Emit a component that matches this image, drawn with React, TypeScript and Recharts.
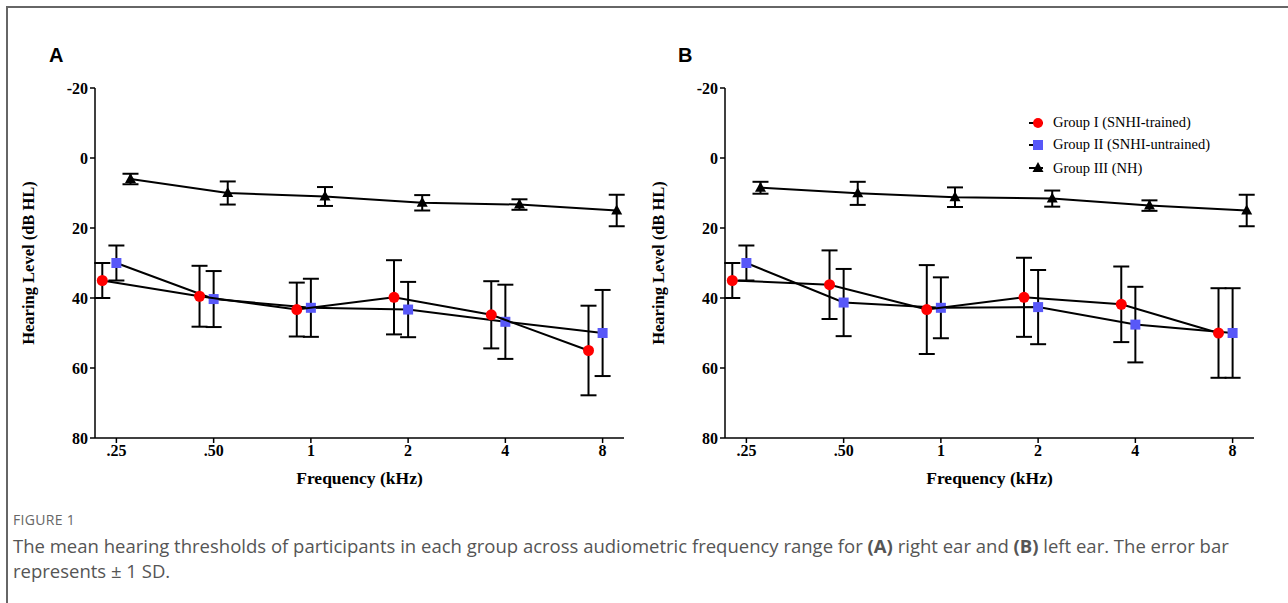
import { ScatterChart, Scatter, XAxis, YAxis, ErrorBar, Legend } from 'recharts';

const freqLabels = ['.25', '.50', '1', '2', '4', '8'];
const freqIndex = [0, 1, 2, 3, 4, 5];
const yTicks = [-20, 0, 20, 40, 60, 80];

// right ear (A)
const rightG1Mean = [35, 39.5, 43.3, 39.8, 44.8, 55];
const rightG1Sd = [5, 8.7, 7.7, 10.6, 9.6, 12.8];
const rightG2Mean = [30, 40.3, 42.8, 43.3, 46.8, 50];
const rightG2Sd = [5, 8, 8.3, 7.9, 10.6, 12.3];
const rightG3Mean = [6, 10, 11, 12.8, 13.3, 15];
const rightG3Sd = [1.5, 3.3, 2.7, 2.2, 1.5, 4.5];

// left ear (B)
const leftG1Mean = [35, 36.2, 43.3, 39.8, 41.8, 50];
const leftG1Sd = [5, 9.8, 12.7, 11.3, 10.8, 12.8];
const leftG2Mean = [30, 41.3, 42.8, 42.6, 47.6, 50];
const leftG2Sd = [5, 9.6, 8.7, 10.6, 10.8, 12.8];
const leftG3Mean = [8.5, 10.1, 11.2, 11.6, 13.6, 15];
const leftG3Sd = [1.7, 3.3, 2.8, 2.3, 1.5, 4.5];

const groupNames = ['Group I (SNHI-trained)', 'Group II (SNHI-untrained)', 'Group III (NH)'];

const RED = '#ff0000';
const BLUE = '#5858f8';
const SERIF = '"Liberation Serif", "Times New Roman", serif';

// small horizontal shift so the three groups do not overlap at each frequency
const OFFSET = 0.145;

const toPoints = (means: number[], sds: number[], shift: number) =>
  means.map((m, i) => ({ x: freqIndex[i] + shift, y: m, sd: sds[i] }));

const Circle = (props: any) => <circle cx={props.cx} cy={props.cy} r={5.5} fill={RED} />;
const Square = (props: any) => (
  <rect x={props.cx - 5} y={props.cy - 5} width={10} height={10} fill={BLUE} />
);
const Triangle = (props: any) => (
  <polygon
    points={`${props.cx},${props.cy - 6} ${props.cx + 5.5},${props.cy + 4} ${props.cx - 5.5},${props.cy + 4}`}
    fill="#000"
  />
);

function LegendBox() {
  const markers = [
    <circle cx={10} cy={6} r={5} fill={RED} />,
    <rect x={5} y={1} width={10} height={10} fill={BLUE} />,
    <polygon points="10,0 15.5,10 4.5,10" fill="#000" />,
  ];
  const heights = [21, 23, 24];
  return (
    <div style={{ fontFamily: SERIF, fontSize: 14.5, color: '#000' }}>
      {groupNames.map((name, i) => (
        <div key={name} style={{ display: 'flex', alignItems: 'center', height: heights[i] }}>
          <svg width={20} height={12} style={{ overflow: 'visible' }}>
            <line x1={1} y1={6} x2={15} y2={6} stroke="#000" strokeWidth={2} />
            {markers[i]}
          </svg>
          <span style={{ marginLeft: 5 }}>{name}</span>
        </div>
      ))}
    </div>
  );
}

interface PanelProps {
  g1: { x: number; y: number; sd: number }[];
  g2: { x: number; y: number; sd: number }[];
  g3: { x: number; y: number; sd: number }[];
  showLegend?: boolean;
}

function Panel({ g1, g2, g3, showLegend }: PanelProps) {
  const tickStyle = { fontFamily: SERIF, fontSize: 16, fontWeight: 700, fill: '#000' };
  const errProps = { dataKey: 'sd', direction: 'y' as const, width: 8, stroke: '#000', strokeWidth: 2 };
  return (
    <ScatterChart width={630} height={480} margin={{ top: 58, right: 16, bottom: 24, left: 0 }}>
      <XAxis
        type="number"
        dataKey="x"
        domain={[-0.22, 5.22]}
        ticks={freqIndex}
        tickFormatter={(v: number) => freqLabels[v]}
        allowDataOverflow
        height={48}
        tickSize={5}
        tick={tickStyle}
        axisLine={{ stroke: '#000', strokeWidth: 1.5 }}
        tickLine={{ stroke: '#000', strokeWidth: 1.5 }}
        label={{
          value: 'Frequency (kHz)',
          position: 'insideBottom',
          offset: 2,
          style: { fontFamily: SERIF, fontSize: 17.5, fontWeight: 700, fill: '#000' },
        }}
      />
      <YAxis
        type="number"
        dataKey="y"
        domain={[-20, 80]}
        ticks={yTicks}
        reversed
        allowDataOverflow
        width={85}
        tickSize={5}
        tick={tickStyle}
        axisLine={{ stroke: '#000', strokeWidth: 1.5 }}
        tickLine={{ stroke: '#000', strokeWidth: 1.5 }}
        label={{
          value: 'Hearing Level (dB HL)',
          angle: -90,
          position: 'insideLeft',
          offset: 18,
          style: { textAnchor: 'middle', fontFamily: SERIF, fontSize: 16.5, fontWeight: 700, fill: '#000' },
        }}
      />
      {showLegend && (
        <Legend
          layout="horizontal"
          align="center"
          verticalAlign="middle"
          content={() => <LegendBox />}
          wrapperStyle={{ left: 388, top: 82, width: 230 }}
        />
      )}
      <Scatter name={groupNames[2]} data={g3} line={{ stroke: '#000', strokeWidth: 2 }} shape={Triangle} isAnimationActive={false}>
        <ErrorBar {...errProps} isAnimationActive={false} />
      </Scatter>
      <Scatter name={groupNames[1]} data={g2} line={{ stroke: '#000', strokeWidth: 2 }} shape={Square} isAnimationActive={false}>
        <ErrorBar {...errProps} isAnimationActive={false} />
      </Scatter>
      <Scatter name={groupNames[0]} data={g1} line={{ stroke: '#000', strokeWidth: 2 }} shape={Circle} isAnimationActive={false}>
        <ErrorBar {...errProps} isAnimationActive={false} />
      </Scatter>
    </ScatterChart>
  );
}

export default function App() {
  const panelLabel = {
    position: 'absolute' as const,
    fontFamily: '"Liberation Sans", Arial, sans-serif',
    fontWeight: 700,
    fontSize: 20,
    lineHeight: '20px',
    top: 45,
  };
  return (
    <div style={{ position: 'absolute', left: 0, top: 0, width: 1288, height: 603, background: '#fff', overflow: 'hidden' }}>
      <div
        style={{
          position: 'absolute',
          left: 6,
          top: 6,
          width: 1300,
          height: 620,
          borderTop: '2px solid #666',
          borderLeft: '2px solid #666',
        }}
      />
      <div style={{ ...panelLabel, left: 49 }}>A</div>
      <div style={{ ...panelLabel, left: 678 }}>B</div>
      <div style={{ position: 'absolute', left: 10, top: 30 }}>
        <Panel
          g1={toPoints(rightG1Mean, rightG1Sd, -OFFSET)}
          g2={toPoints(rightG2Mean, rightG2Sd, 0)}
          g3={toPoints(rightG3Mean, rightG3Sd, OFFSET)}
        />
      </div>
      <div style={{ position: 'absolute', left: 640, top: 30 }}>
        <Panel
          g1={toPoints(leftG1Mean, leftG1Sd, -OFFSET)}
          g2={toPoints(leftG2Mean, leftG2Sd, 0)}
          g3={toPoints(leftG3Mean, leftG3Sd, OFFSET)}
          showLegend
        />
      </div>
      <div
        style={{
          position: 'absolute',
          left: 13,
          top: 511,
          fontFamily: '"Open Sans", "Noto Sans", sans-serif',
          fontSize: 14,
          lineHeight: '18px',
          color: '#666',
          letterSpacing: 0.3,
        }}
      >
        FIGURE 1
      </div>
      <div
        style={{
          position: 'absolute',
          left: 13,
          top: 533,
          width: 1270,
          fontFamily: '"Open Sans", "Noto Sans", sans-serif',
          fontSize: 18.5,
          lineHeight: '25px',
          color: '#555',
          whiteSpace: 'nowrap',
        }}
      >
        The mean hearing thresholds of participants in each group across audiometric frequency range for{' '}
        <b>(A)</b> right ear and <b>(B)</b> left ear. The error bar
        <br />
        represents ± 1 SD.
      </div>
    </div>
  );
}
